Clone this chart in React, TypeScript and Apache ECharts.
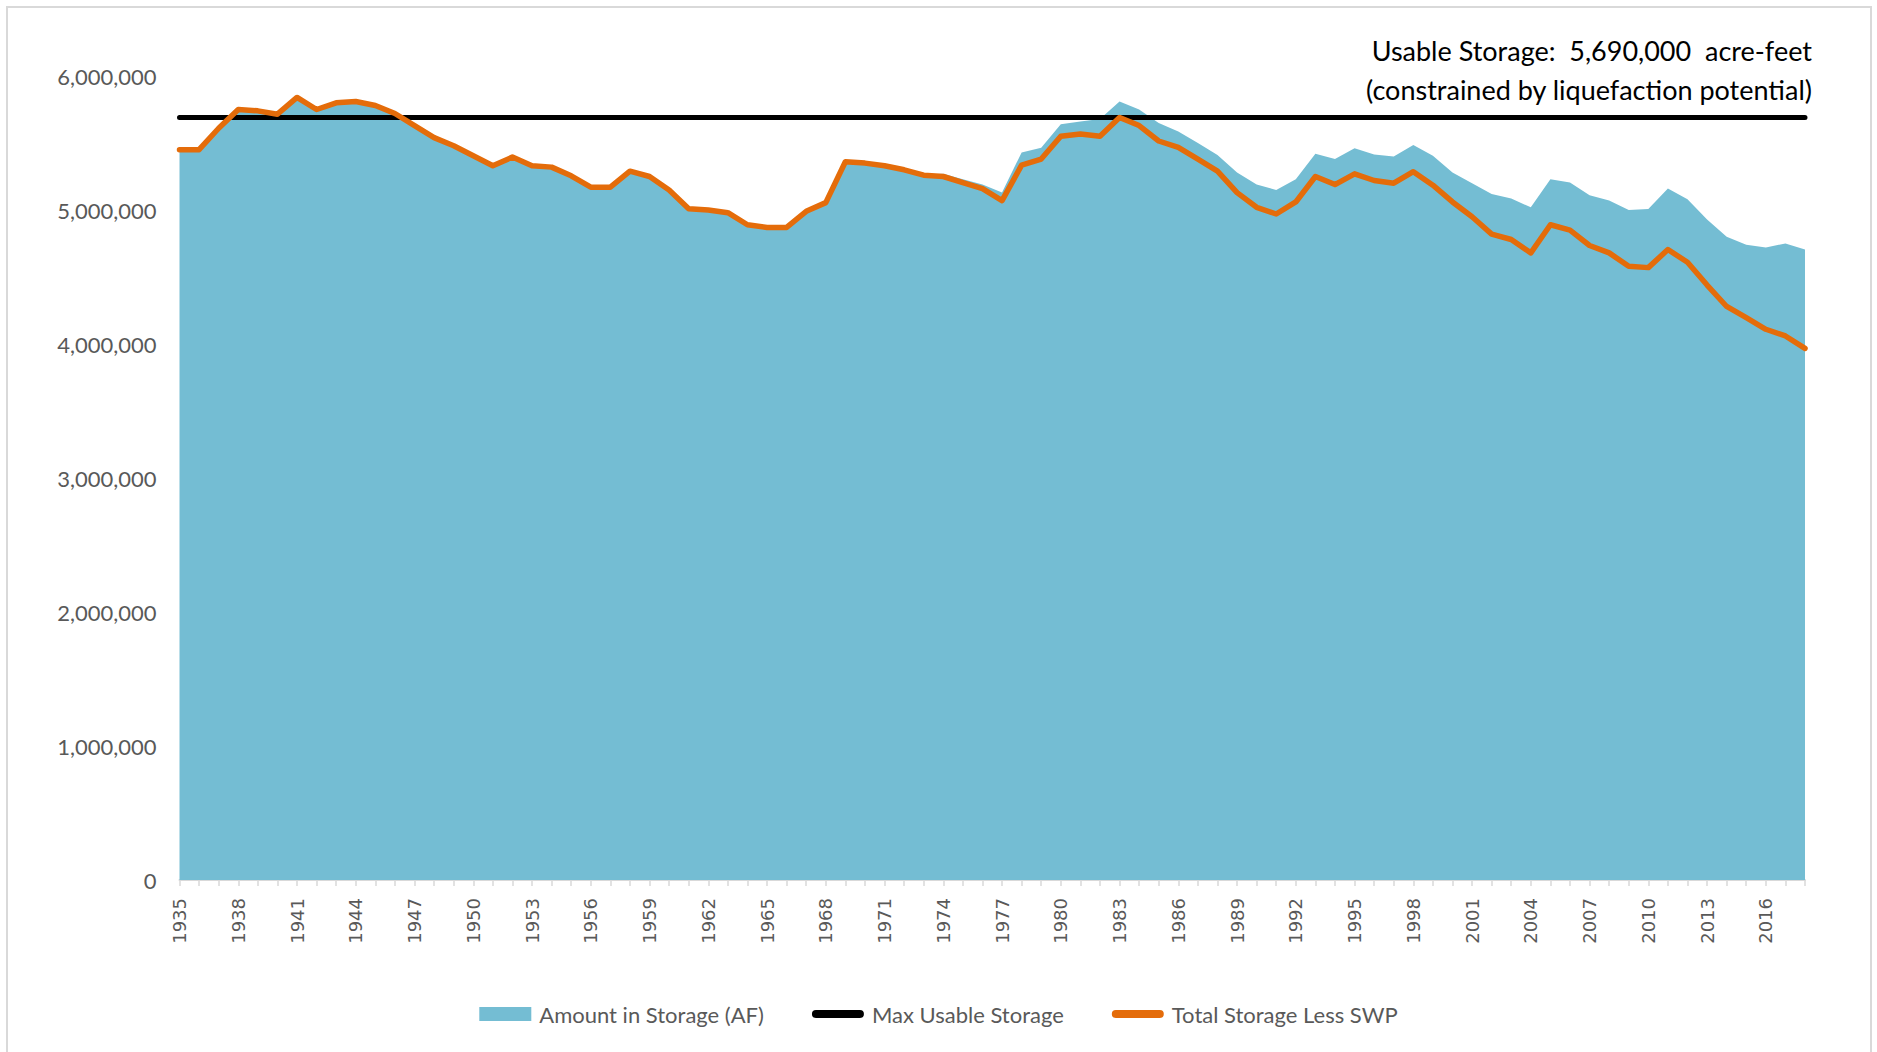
import React, { useEffect, useRef } from "react";
import * as echarts from "echarts";

const years: string[] = [];
for (let y = 1935; y <= 2018; y++) years.push(String(y));

// Amount in Storage (AF)
const storage: number[] = [
  5450000, 5450000, 5610000, 5750000, 5740000, 5715000, 5840000, 5750000, 5800000, 5810000,
  5780000, 5720000, 5630000, 5540000, 5480000, 5405000, 5330000, 5395000, 5330000, 5320000,
  5255000, 5170000, 5170000, 5290000, 5250000, 5150000, 5010000, 5000000, 4980000, 4890000,
  4870000, 4870000, 4990000, 5055000, 5360000, 5350000, 5330000, 5300000, 5265000, 5270000,
  5230000, 5190000, 5130000, 5430000, 5465000, 5640000, 5660000, 5680000, 5810000, 5750000,
  5650000, 5585000, 5500000, 5410000, 5280000, 5190000, 5150000, 5230000, 5420000, 5380000,
  5460000, 5415000, 5400000, 5485000, 5405000, 5280000, 5200000, 5120000, 5085000, 5020000,
  5230000, 5205000, 5110000, 5070000, 5000000, 5007000, 5160000, 5080000, 4930000, 4800000,
  4740000, 4720000, 4750000, 4705000,
];

// Total Storage Less SWP
const lessSWP: number[] = [
  5450000, 5450000, 5610000, 5750000, 5740000, 5715000, 5840000, 5750000, 5800000, 5810000,
  5780000, 5720000, 5630000, 5540000, 5480000, 5405000, 5330000, 5395000, 5330000, 5320000,
  5255000, 5170000, 5170000, 5290000, 5250000, 5150000, 5010000, 5000000, 4980000, 4890000,
  4870000, 4870000, 4990000, 5055000, 5360000, 5350000, 5330000, 5300000, 5260000, 5250000,
  5205000, 5160000, 5070000, 5335000, 5380000, 5550000, 5567000, 5550000, 5690000, 5630000,
  5515000, 5467000, 5380000, 5290000, 5130000, 5020000, 4970000, 5060000, 5250000, 5190000,
  5270000, 5220000, 5200000, 5286000, 5185000, 5060000, 4950000, 4820000, 4780000, 4680000,
  4890000, 4850000, 4735000, 4680000, 4580000, 4570000, 4705000, 4610000, 4440000, 4280000,
  4196000, 4110000, 4060000, 3967000,
];

const MAX_USABLE = 5690000;
const maxUsable: number[] = years.map(() => MAX_USABLE);

const seriesNames = ["Amount in Storage (AF)", "Max Usable Storage", "Total Storage Less SWP"];
const annotationLines = ["Usable Storage:  5,690,000  acre-feet", "(constrained by liquefaction potential)"];

const fmt = (v: number) => String(v).replace(/\B(?=(\d{3})+(?!\d))/g, ",");

const pillIcon = "path://M4,0 L48,0 A4,4 0 0 1 48,8 L4,8 A4,4 0 0 1 4,0 Z";

export default function App() {
  const ref = useRef<HTMLDivElement>(null);
  useEffect(() => {
    if (!ref.current) return;
    const chart = echarts.init(ref.current, null, { renderer: "svg" });
    chart.setOption({
      animation: false,
      backgroundColor: "#ffffff",
      grid: { left: 179.5, right: 72, top: 76, bottom: 172, containLabel: false },
      xAxis: {
        type: "category",
        data: years,
        boundaryGap: false,
        axisLine: { lineStyle: { color: "#d9d9d9", width: 2 } },
        axisTick: { show: true, interval: 0, length: 6, lineStyle: { color: "#d9d9d9", width: 1.5 } },
        axisLabel: {
          interval: 2,
          rotate: 90,
          margin: 18,
          color: "#595959",
          fontFamily: "DejaVu Sans",
          fontSize: 18,
        },
        splitLine: { show: false },
      },
      yAxis: {
        type: "value",
        min: 0,
        max: 6000000,
        interval: 1000000,
        axisLine: { show: false },
        axisTick: { show: false },
        splitLine: { show: false },
        axisLabel: {
          margin: 23,
          color: "#595959",
          fontFamily: "Lato",
          fontSize: 22,
          formatter: (v: number) => fmt(v),
        },
      },
      legend: {
        top: 998,
        left: "center",
        itemWidth: 52,
        itemHeight: 14,
        itemGap: 48,
        textStyle: { color: "#595959", fontFamily: "Lato", fontSize: 22, padding: [0, 0, 0, 3] },
        data: [
          { name: seriesNames[0], icon: "rect" },
          { name: seriesNames[1], icon: pillIcon },
          { name: seriesNames[2], icon: pillIcon },
        ],
      },
      graphic: [
        {
          type: "rect",
          shape: { x: 7, y: 7, width: 1864, height: 1070 },
          style: { fill: "none", stroke: "#d9d9d9", lineWidth: 2 },
          silent: true,
        },
        {
          type: "text",
          x: 1812,
          y: 50,
          style: {
            text: annotationLines[0],
            align: "right",
            verticalAlign: "middle",
            fill: "#000000",
            font: "27px Lato",
          },
        },
        {
          type: "text",
          x: 1812,
          y: 89,
          style: {
            text: annotationLines[1],
            align: "right",
            verticalAlign: "middle",
            fill: "#000000",
            font: "27px Lato",
          },
        },
      ],
      series: [
        {
          name: seriesNames[0],
          type: "line",
          data: storage,
          symbol: "none",
          lineStyle: { width: 0, color: "#74bdd3" },
          itemStyle: { color: "#74bdd3" },
          areaStyle: { color: "#74bdd3", opacity: 1 },
          z: 1,
        },
        {
          name: seriesNames[1],
          type: "line",
          data: maxUsable,
          symbol: "none",
          lineStyle: { width: 5, color: "#000000", cap: "round" },
          itemStyle: { color: "#000000" },
          z: 2,
        },
        {
          name: seriesNames[2],
          type: "line",
          data: lessSWP,
          symbol: "none",
          lineStyle: { width: 5.5, color: "#e46c0a", cap: "round", join: "round" },
          itemStyle: { color: "#e46c0a" },
          z: 3,
        },
      ],
    });
    return () => chart.dispose();
  }, []);
  return (
    <div
      ref={ref}
      style={{ position: "absolute", left: 0, top: 0, width: 1877, height: 1052 }}
    />
  );
}
